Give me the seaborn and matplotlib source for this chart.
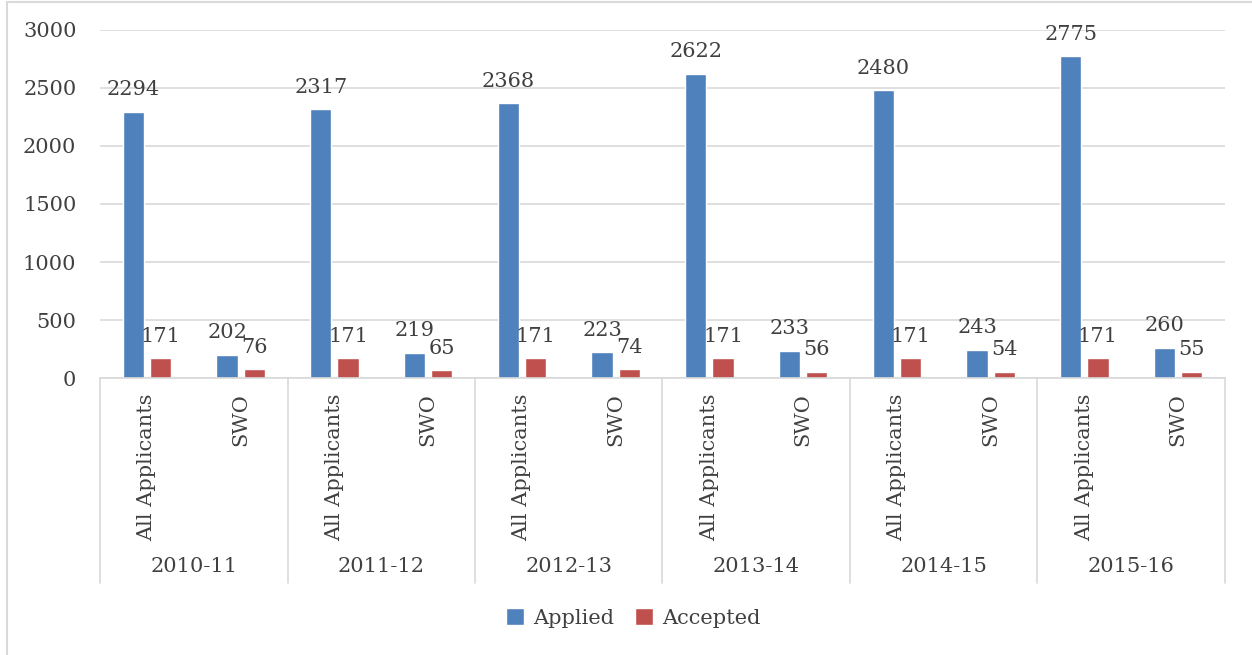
import pandas as pd
import seaborn as sns
import matplotlib.pyplot as plt
from matplotlib.lines import Line2D

# Data
years = ["2010-11", "2011-12", "2012-13", "2013-14", "2014-15", "2015-16"]
groups = ["All Applicants", "SWO"]
applied = [2294, 202, 2317, 219, 2368, 223, 2622, 233, 2480, 243, 2775, 260]
accepted = [171, 76, 171, 65, 171, 74, 171, 56, 171, 54, 171, 55]

keys = [f"{y}|{g}" for y in years for g in groups]
df = pd.DataFrame({
    "key": keys * 2,
    "series": ["Applied"] * len(keys) + ["Accepted"] * len(keys),
    "value": applied + accepted,
})

sns.set_style("white")
plt.rcParams["font.family"] = ["DejaVu Serif"]
txt = "#404040"
grid = "#D9D9D9"
fs = 15

fig = plt.figure(figsize=(12.52, 6.55), dpi=100)
ax = fig.add_axes([0.0799, 0.4229, 0.8985, 0.5313])

sns.barplot(data=df, x="key", y="value", hue="series", order=keys,
            palette=["#4F81BD", "#C0504D"], width=0.58, gap=0.22,
            saturation=1, ax=ax, legend=True)

ax.set_ylim(0, 3000)
ax.set_xlim(-0.5, len(keys) - 0.5)
ax.set_yticks(range(0, 3001, 500))
ax.yaxis.grid(True, color=grid, linewidth=1.2)
ax.set_axisbelow(True)
for s in ["top", "right", "left"]:
    ax.spines[s].set_visible(False)
ax.spines["bottom"].set_color(grid)
ax.spines["bottom"].set_linewidth(1.2)
ax.tick_params(axis="y", length=0, pad=17, labelsize=fs, labelcolor=txt)
ax.tick_params(axis="x", length=0, pad=11, labelsize=fs, labelcolor=txt)
ax.set_xticks(range(len(keys)))
ax.set_xticklabels([k.split("|")[1] for k in keys], rotation=90, va="top")
ax.set_xlabel("")
ax.set_ylabel("")

for c in ax.containers:
    ax.bar_label(c, padding=9, fontsize=fs, color=txt)

# year labels and separators of the two-level category axis
tr = ax.get_xaxis_transform()
for i, y in enumerate(years):
    ax.text(2 * i + 0.5, -0.543, y, transform=tr, ha="center", va="center",
            fontsize=fs, color=txt)
for i in range(len(years) + 1):
    ax.add_line(Line2D([2 * i - 0.5, 2 * i - 0.5], [0, -0.589], transform=tr,
                       color=grid, linewidth=1.2, clip_on=False))

handles, labels = ax.get_legend_handles_labels()
ax.get_legend().remove()
fig.legend(handles, labels, loc="center", bbox_to_anchor=(0.506, 0.0565), ncol=2,
           frameon=False, fontsize=fs, handlelength=0.85, handleheight=0.85,
           handletextpad=0.45, columnspacing=1.0, labelcolor=txt)

# chart frame: only the top and left edges are visible
fig.add_artist(Line2D([0.0055, 1.0], [0.9975, 0.9975], transform=fig.transFigure,
                      color=grid, linewidth=1.5))
fig.add_artist(Line2D([0.0055, 0.0055], [0.0, 0.9975], transform=fig.transFigure,
                      color=grid, linewidth=1.5))

fig.savefig("out.png", dpi=100)
